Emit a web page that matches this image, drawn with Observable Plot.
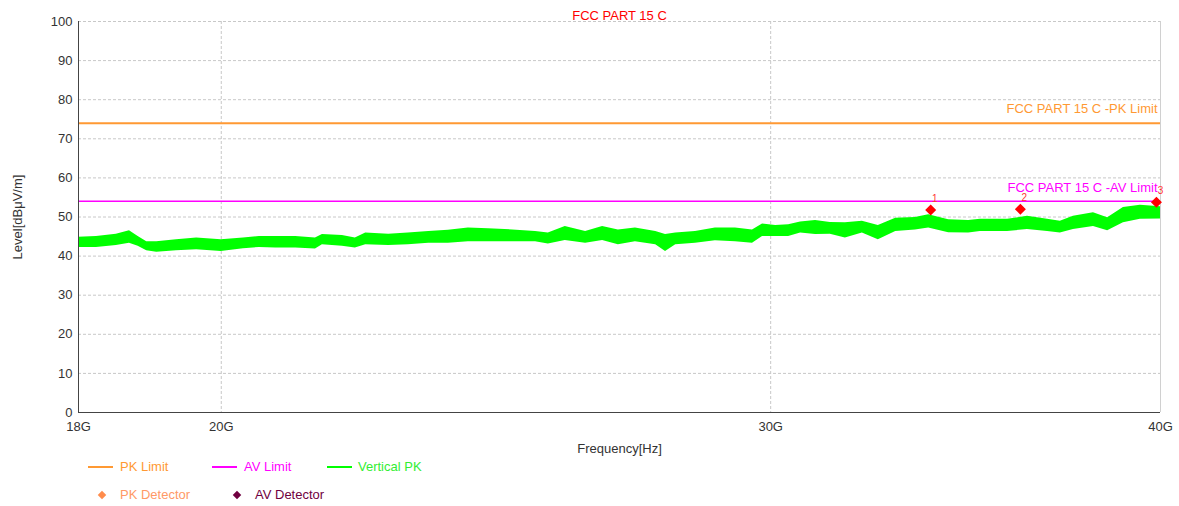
<!DOCTYPE html>
<html>
<head>
<meta charset="utf-8">
<script src="https://cdn.jsdelivr.net/npm/d3@7"></script>
<script src="https://cdn.jsdelivr.net/npm/@observablehq/plot@0.6"></script>
<style>
  html, body { margin: 0; padding: 0; background: #fff; }
  #wrap { position: relative; width: 1179px; height: 506px; font-family: "Liberation Sans", Arial, sans-serif; }
  .leg { position: absolute; font-size: 13px; white-space: nowrap; }
  .sw { position: absolute; height: 2px; width: 25px; }
  .dm { position: absolute; width: 6px; height: 6px; transform: rotate(45deg); }
</style>
</head>
<body>
<div id="wrap"></div>
<script>
// ---- data ----
const freqGHz = [18.00, 18.24, 18.51, 18.69, 18.81, 18.93, 19.07, 19.35, 19.64, 20.00, 20.33, 20.57, 20.82, 21.13, 21.44, 21.55, 21.87, 22.08, 22.25, 22.63, 22.96, 23.31, 23.65, 24.00, 24.36, 24.80, 25.22, 25.46, 25.78, 26.17, 26.50, 26.81, 27.15, 27.56, 27.76, 27.97, 28.38, 28.80, 29.23, 29.60, 29.82, 30.11, 30.40, 30.67, 31.01, 31.35, 31.70, 32.10, 32.48, 32.90, 33.38, 33.71, 34.21, 34.72, 35.02, 35.73, 36.26, 36.80, 37.15, 37.51, 38.07, 38.47, 38.92, 39.41, 40.00];
const traceHi = [44.8, 45.0, 45.6, 46.5, 45.0, 43.7, 43.7, 44.2, 44.6, 44.2, 44.6, 45.0, 45.0, 45.0, 44.6, 45.5, 45.3, 44.6, 45.9, 45.6, 45.9, 46.3, 46.6, 47.2, 47.0, 46.7, 46.3, 45.9, 47.6, 46.3, 47.6, 46.7, 47.2, 46.3, 45.5, 45.9, 46.3, 47.2, 47.2, 46.7, 48.2, 47.8, 48.0, 48.7, 49.1, 48.6, 48.5, 48.9, 47.8, 49.7, 49.9, 50.6, 49.3, 49.1, 49.4, 49.4, 50.2, 49.4, 48.9, 50.2, 51.1, 49.8, 52.4, 53.0, 52.6];
const traceLo = [42.2, 42.2, 42.7, 43.3, 42.5, 41.4, 41.0, 41.4, 41.6, 41.2, 41.9, 42.2, 42.1, 42.1, 41.8, 42.9, 42.5, 42.1, 42.9, 42.7, 42.9, 43.3, 43.3, 43.7, 43.7, 43.7, 43.7, 43.1, 44.0, 43.3, 44.0, 42.9, 43.7, 42.9, 41.2, 42.9, 43.3, 43.9, 43.7, 43.3, 45.0, 45.0, 45.0, 45.9, 45.5, 45.6, 44.6, 45.9, 44.2, 46.3, 46.7, 47.2, 46.0, 45.9, 46.3, 46.3, 46.8, 46.3, 45.9, 46.8, 47.6, 46.5, 48.5, 49.4, 49.5];

const markerFreq = [33.76, 36.07, 39.88];
const markerLevel = [51.8, 52.0, 53.8];
const markerLabel = ["1", "2", "3"];

const limitNames = ["FCC PART 15 C -PK Limit", "FCC PART 15 C -AV Limit"];
const limitValues = [74, 54];
const limitColors = ["#ff9933", "#ff00ff"];

const yTicks = [0, 10, 20, 30, 40, 50, 60, 70, 80, 90, 100];
const xTicks = [18, 20, 30, 40];
const xTickLabels = ["18G", "20G", "30G", "40G"];

const title = "FCC PART 15 C";

// ---- build tables ----
const trace = freqGHz.map((f, i) => ({f, hi: traceHi[i], lo: traceLo[i]}));
const markers = markerFreq.map((f, i) => ({f, v: markerLevel[i], label: markerLabel[i]}));
const limits = limitValues.map((v, i) => ({v, name: limitNames[i], color: limitColors[i]}));
const labelOf = new Map(xTicks.map((t, i) => [t, xTickLabels[i]]));

const chart = Plot.plot({
  width: 1179,
  height: 506,
  marginLeft: 78,
  marginRight: 19,
  marginTop: 21,
  marginBottom: 94,
  style: {fontFamily: "Liberation Sans, Arial, sans-serif", fontSize: "13px", color: "#333", background: "#fff"},
  x: {type: "log", domain: [18, 40]},
  y: {domain: [0, 100]},
  marks: [
    Plot.ruleY(yTicks.filter(d => d > 0), {stroke: "#c8c8c8", strokeDasharray: "3,2", strokeWidth: 1}),
    Plot.ruleX([20, 30], {stroke: "#c8c8c8", strokeDasharray: "3,2", strokeWidth: 1}),
    Plot.ruleX([40], {stroke: "#d0d0d0", strokeWidth: 1}),
    Plot.areaY(trace, {x: "f", y1: "lo", y2: "hi", fill: "#00ff00", curve: "linear"}),
    Plot.ruleY(limits, {y: "v", stroke: "color", strokeWidth: d => d.v === 74 ? 2 : 1.5}),
    Plot.text(limits, {x: () => 40, y: "v", text: "name", fill: "color", textAnchor: "end", dx: -3, dy: -14, fontSize: 13}),
    Plot.dot(markers, {x: "f", y: "v", symbol: "diamond2", r: 4, fill: "#ff0000", stroke: "#ff0000"}),
    Plot.text(markers, {x: "f", y: "v", text: "label", fill: "#ff3333", dx: 4, dy: -11, fontSize: 10}),
    Plot.ruleX([18], {stroke: "#444", strokeWidth: 1}),
    Plot.ruleY([0], {stroke: "#444", strokeWidth: 1}),
    Plot.axisY({ticks: yTicks, tickSize: 0, tickPadding: 6, label: "Level[dBμV/m]", labelAnchor: "center", labelArrow: "none", labelOffset: 66, fill: "#333"}),
    Plot.axisX({ticks: xTicks, tickSize: 0, tickPadding: 9, tickFormat: d => labelOf.get(d), label: "Frequency[Hz]", labelAnchor: "center", labelArrow: "none", labelOffset: 40, fill: "#333"}),
    Plot.text([title], {frameAnchor: "top", dy: -11, fill: "#ff0000", fontSize: 13})
  ]
});

const wrap = document.getElementById("wrap");
wrap.appendChild(chart);

// ---- legend ----
const legendItems = [
  {kind: "line", color: "#ff9933", text: "PK Limit", textColor: "#ff9933", x: 88, tx: 120, y: 467},
  {kind: "line", color: "#ff00ff", text: "AV Limit", textColor: "#ff00ff", x: 212, tx: 244, y: 467},
  {kind: "line", color: "#00ff00", text: "Vertical PK", textColor: "#33ee33", x: 327, tx: 358, y: 467},
  {kind: "dot", color: "#ff8c4c", text: "PK Detector", textColor: "#ff9966", x: 102, tx: 120, y: 495},
  {kind: "dot", color: "#700040", text: "AV Detector", textColor: "#700040", x: 237, tx: 255, y: 495}
];
for (const it of legendItems) {
  const s = document.createElement("div");
  if (it.kind === "line") {
    s.className = "sw";
    s.style.left = it.x + "px";
    s.style.top = (it.y - 1) + "px";
    s.style.background = it.color;
  } else {
    s.className = "dm";
    s.style.left = (it.x - 3) + "px";
    s.style.top = (it.y - 3) + "px";
    s.style.background = it.color;
  }
  wrap.appendChild(s);
  const t = document.createElement("div");
  t.className = "leg";
  t.textContent = it.text;
  t.style.left = it.tx + "px";
  t.style.top = (it.y - 8) + "px";
  t.style.color = it.textColor;
  wrap.appendChild(t);
}
</script>
</body>
</html>
